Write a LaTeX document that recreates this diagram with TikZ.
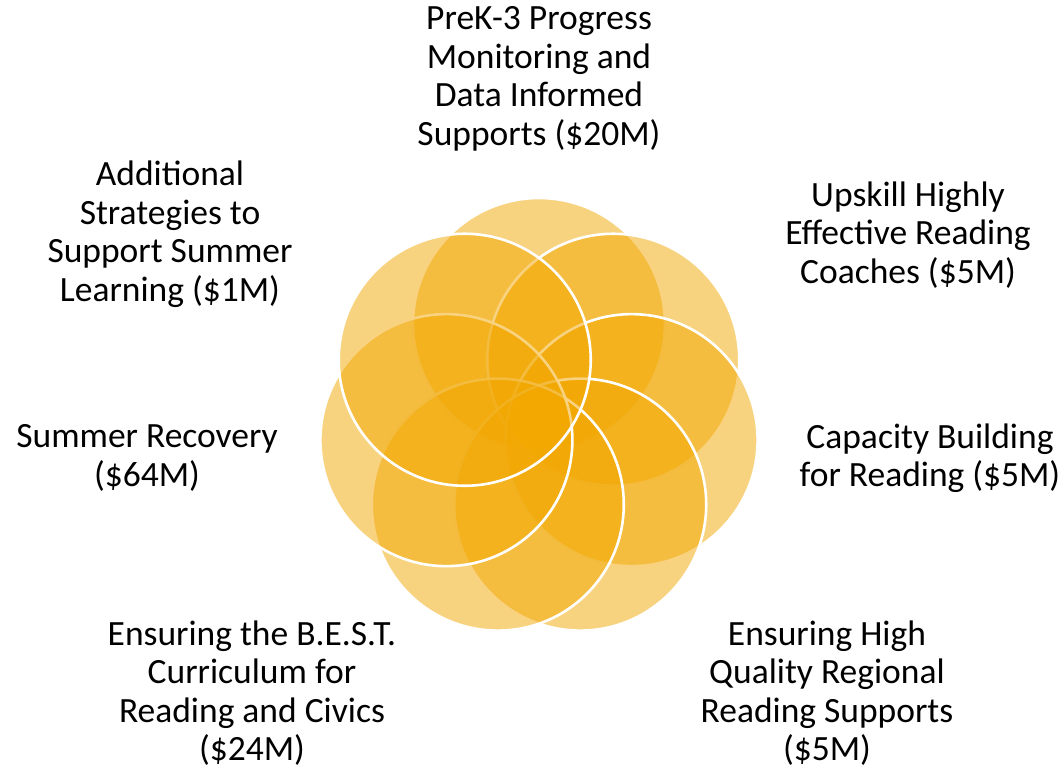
\documentclass[tikz,border=0pt]{standalone}
\usepackage{fontspec}
\setmainfont{Carlito}
\usepackage{xcolor}
\usepackage{tikz}
\usetikzlibrary{positioning,calc}
\definecolor{petalgold}{RGB}{242,167,0}
\definecolor{labelink} {RGB}{0,0,0}
\tikzset{
  % Overlapping petal circle
  petal/.style={circle, minimum size=252pt, inner sep=0pt, outer sep=0pt,
                fill=petalgold, fill opacity=0.5,
                draw=white, draw opacity=1, line width=2.6pt},
  % Budget item label
  lbl/.style={align=center, text=labelink, inner sep=0pt,
              font=\fontsize{35.5}{38.5}\selectfont},
}
\begin{document}
\begin{tikzpicture}[x=1pt,y=-1pt]

    \useasboundingbox (0,0) rectangle (1061,769);

    %% ── Rosette ────────────────────────────────────────────
    \coordinate (hub) at (539,419);
    \foreach \i in {0,...,6}{
      \node[petal] (ring\i) at ($(hub)+({-90+\i*360/7}:95)$) {};
    }

    %% ── Labels ─────────────────────────────────────────────
    \node[lbl] (lblTop) at (539,79)
         {PreK-3 Progress\\Monitoring and\\Data Informed\\Supports (\$20M)};
    \node[lbl] (lblUR) at (908,235)
         {Upskill Highly\\Effective Reading\\Coaches (\$5M)};
    \node[lbl] (lblR) at (930,458)
         {Capacity Building\\for Reading (\$5M)};
    \node[lbl] (lblLR) at (827,693)
         {Ensuring High\\Quality Regional\\Reading Supports\\(\$5M)};
    \node[lbl] (lblLL) at (252,693)
         {Ensuring the B.E.S.T.\\Curriculum for\\Reading and Civics\\(\$24M)};
    \node[lbl] (lblL) at (147,458)
         {Summer Recovery\\(\$64M)};
    \node[lbl] (lblUL) at (170,234)
         {Additional\\Strategies to\\Support Summer\\Learning (\$1M)};

\end{tikzpicture}
\end{document}
